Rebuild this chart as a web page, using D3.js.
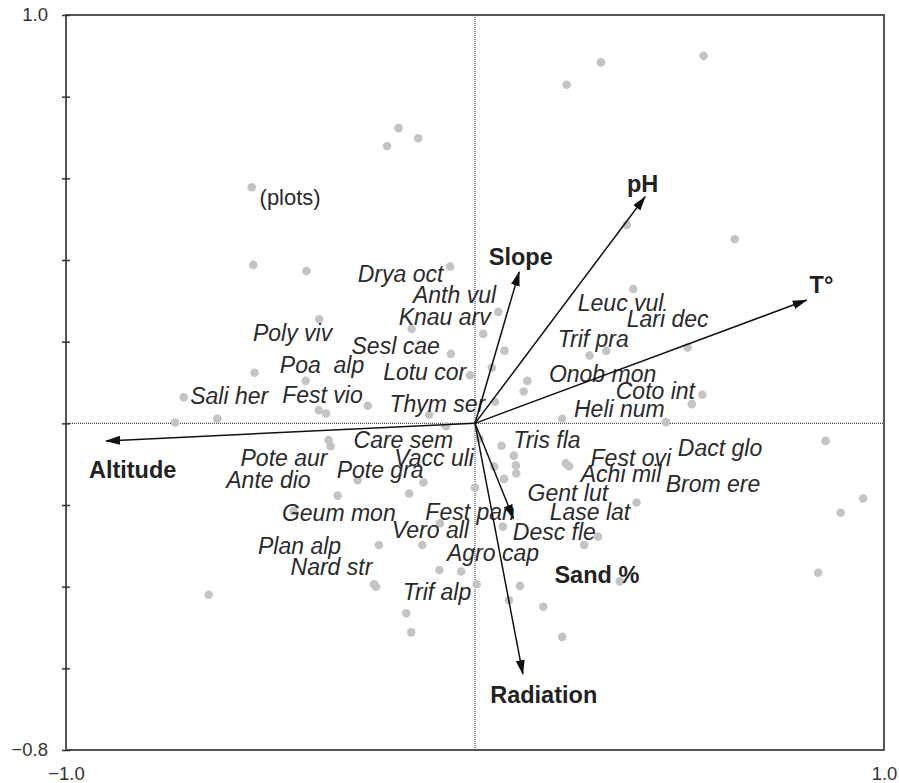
<!DOCTYPE html>
<html>
<head>
<meta charset="utf-8">
<script src="https://cdn.jsdelivr.net/npm/d3@7"></script>
<style>
  body { margin: 0; background: #fff; }
  svg text { font-family: "Liberation Sans", Arial, sans-serif; }
</style>
</head>
<body>
<div class="biplot"></div>
<script>
// site (plot) scores, axis 1 and axis 2
var plotX = [0.559, 0.308, 0.224, -0.187, -0.139, -0.215, -0.546, 0.371, 0.635, -0.542,
             -0.412, -0.061, 0.387, -0.381, 0.057, -0.155, 0.020, 0.072, -0.059, 0.280,
             0.321, 0.520, -0.539, -0.414, 0.041, -0.012, 0.128, 0.119, 0.556, -0.712,
             -0.262, -0.382, -0.364, -0.112, 0.049, 0.530, -0.733, -0.630, 0.213, 0.467,
             -0.071, 0.857, -0.358, -0.353, 0.011, 0.065, 0.095, 0.100, 0.101, 0.047,
             0.071, 0.222, 0.230, -0.126, -0.161, 0.000, -0.287, -0.336, -0.444, 0.395,
             0.949, 0.894, -0.086, 0.068, 0.301, 0.267, -0.235, -0.129, -0.087, -0.034,
             0.004, 0.110, 0.354, -0.247, -0.242, 0.083, 0.167, -0.168, -0.156, 0.213,
             0.839, -0.651];
var plotY = [0.900, 0.884, 0.829, 0.723, 0.698, 0.679, 0.578, 0.486, 0.451, 0.388,
             0.373, 0.384, 0.329, 0.255, 0.273, 0.231, 0.219, 0.178, 0.170, 0.166,
             0.177, 0.186, 0.124, 0.104, 0.136, 0.118, 0.104, 0.078, 0.070, 0.064,
             0.043, 0.032, 0.024, 0.021, 0.053, 0.047, 0.002, 0.011, 0.011, 0.003,
             -0.007, -0.043, -0.041, -0.056, -0.037, -0.055, -0.079, -0.103, -0.123, -0.106,
             -0.136, -0.098, -0.105, -0.145, -0.172, -0.157, -0.139, -0.177, -0.215, -0.194,
             -0.184, -0.219, -0.245, -0.253, -0.277, -0.298, -0.298, -0.298, -0.359, -0.363,
             -0.394, -0.398, -0.387, -0.394, -0.400, -0.433, -0.449, -0.465, -0.512, -0.523,
             -0.366, -0.420];

// species scores
var species = ['Poly viv', 'Poa  alp', 'Sali her', 'Fest vio', 'Drya oct', 'Anth vul', 'Knau arv',
               'Sesl cae', 'Lotu cor', 'Thym ser', 'Leuc vul', 'Lari dec', 'Trif pra', 'Onob mon',
               'Coto int', 'Heli num', 'Tris fla', 'Dact glo', 'Brom ere', 'Fest ovi', 'Achi mil',
               'Care sem', 'Vacc uli', 'Pote gra', 'Gent lut', 'Fest pan', 'Lase lat', 'Vero all',
               'Desc fle', 'Agro cap', 'Trif alp', 'Nard str', 'Plan alp', 'Geum mon', 'Pote aur',
               'Ante dio'];
var speciesX = [-0.446, -0.374, -0.601, -0.373, -0.182, -0.050, -0.074,
                -0.194, -0.123, -0.092, 0.356, 0.471, 0.289, 0.312,
                0.441, 0.353, 0.176, 0.599, 0.582, 0.381, 0.357,
                -0.175, -0.100, -0.232, 0.227, -0.012, 0.281, -0.109,
                0.194, 0.044, -0.093, -0.351, -0.429, -0.333, -0.467,
                -0.505];
var speciesY = [0.202, 0.124, 0.047, 0.050, 0.347, 0.294, 0.241,
                0.170, 0.106, 0.027, 0.276, 0.235, 0.188, 0.102,
                0.060, 0.016, -0.061, -0.080, -0.168, -0.104, -0.143,
                -0.061, -0.104, -0.135, -0.190, -0.237, -0.237, -0.282,
                -0.286, -0.337, -0.433, -0.372, -0.320, -0.239, -0.105,
                -0.159];

// environmental variables (arrow tips) and where their names sit
var envNames = ['Altitude', 'Slope', 'pH', 'T°', 'Sand %', 'Radiation'];
var envX = [-0.902, 0.108, 0.416, 0.811, 0.094, 0.117];
var envY = [-0.043, 0.371, 0.555, 0.302, -0.233, -0.614];
var envLabelX = [-0.837, 0.112, 0.410, 0.847, 0.298, 0.168];
var envLabelY = [-0.134, 0.388, 0.566, 0.320, -0.390, -0.684];

var plotsLabel = {text: '(plots)', x: -0.452, y: 0.535};

var xDomain = [-1.0, 1.0], yDomain = [-0.8, 1.0];
var yTicks = [1.0, 0.8, 0.6, 0.4, 0.2, 0, -0.2, -0.4, -0.6, -0.8];
var xTicks = [-1.0, 1.0];

var width = 899, height = 783;
var margin = {top: 15, right: 15, bottom: 33, left: 66};
var w = width - margin.left - margin.right,
    h = height - margin.top - margin.bottom;

var svg = d3.select('.biplot')
            .append('svg')
            .attr('width', width)
            .attr('height', height);

var defs = svg.append('defs');
defs.append('marker')
    .attr('id', 'head')
    .attr('markerUnits', 'userSpaceOnUse')
    .attr('viewBox', '0 -5 15 10')
    .attr('refX', 14)
    .attr('refY', 0)
    .attr('markerWidth', 15)
    .attr('markerHeight', 10)
    .attr('orient', 'auto')
    .append('path')
    .attr('d', 'M0,-4.5L15,0L0,4.5Z')
    .attr('fill', '#111');

var g = svg.append('g')
           .attr('transform', 'translate(' + margin.left + ',' + margin.top + ')');

// Scales
var xscale = d3.scaleLinear().domain(xDomain).range([0, w]);
var yscale = d3.scaleLinear().domain(yDomain).range([h, 0]);

// zero lines
g.append('line')
 .attr('x1', 0).attr('x2', w)
 .attr('y1', yscale(0)).attr('y2', yscale(0))
 .attr('stroke', '#222').attr('stroke-width', 1).attr('stroke-dasharray', '1,1');
g.append('line')
 .attr('x1', xscale(0)).attr('x2', xscale(0))
 .attr('y1', 0).attr('y2', h)
 .attr('stroke', '#222').attr('stroke-width', 1).attr('stroke-dasharray', '1,1');

// site points
g.selectAll('circle.site')
 .data(plotX)
 .enter().append('circle')
 .attr('class', 'site')
 .attr('cx', function(d) { return xscale(d); })
 .attr('cy', function(d, i) { return yscale(plotY[i]); })
 .attr('r', 4.3)
 .attr('fill', '#c4c4c4');

g.append('text')
 .attr('x', xscale(plotsLabel.x))
 .attr('y', yscale(plotsLabel.y))
 .attr('text-anchor', 'middle')
 .attr('font-size', '22px')
 .attr('fill', '#2a2a2a')
 .text(plotsLabel.text);

// species labels
g.selectAll('text.sp')
 .data(species)
 .enter().append('text')
 .attr('class', 'sp')
 .attr('x', function(d, i) { return xscale(speciesX[i]); })
 .attr('y', function(d, i) { return yscale(speciesY[i]); })
 .attr('text-anchor', 'middle')
 .attr('font-size', '23px')
 .attr('font-style', 'italic')
 .attr('fill', '#2a2a2a')
 .style('white-space', 'pre')
 .text(function(d) { return d; });

// arrows
g.selectAll('line.env')
 .data(envNames)
 .enter().append('line')
 .attr('class', 'env')
 .attr('x1', xscale(0)).attr('y1', yscale(0))
 .attr('x2', function(d, i) { return xscale(envX[i]); })
 .attr('y2', function(d, i) { return yscale(envY[i]); })
 .attr('stroke', '#111')
 .attr('stroke-width', 1.5)
 .attr('marker-end', 'url(#head)');

g.selectAll('text.env')
 .data(envNames)
 .enter().append('text')
 .attr('class', 'env')
 .attr('x', function(d, i) { return xscale(envLabelX[i]); })
 .attr('y', function(d, i) { return yscale(envLabelY[i]); })
 .attr('text-anchor', 'middle')
 .attr('font-size', '23.5px')
 .attr('font-weight', 'bold')
 .attr('fill', '#222')
 .text(function(d) { return d; });

// frame
g.append('rect')
 .attr('x', 0).attr('y', 0)
 .attr('width', w).attr('height', h)
 .attr('fill', 'none')
 .attr('stroke', '#555')
 .attr('stroke-width', 2);

// Scale to axis
var y_axis = d3.axisLeft(yscale)
               .tickValues(yTicks)
               .tickSizeInner(4)
               .tickSizeOuter(0)
               .tickPadding(14)
               .tickFormat(function(d) { return (d === 1 || d === -0.8) ? d3.format('.1f')(d) : ''; });

var x_axis = d3.axisBottom(xscale)
               .tickValues(xTicks)
               .tickSize(0)
               .tickPadding(17)
               .tickFormat(d3.format('.1f'));

var ya = g.append('g').attr('id', 'y-axis').call(y_axis);
ya.select('.domain').remove();
ya.selectAll('.tick line').attr('x1', 4).attr('stroke', '#333').attr('stroke-width', 1.5);

var xa = g.append('g').attr('id', 'x-axis')
          .attr('transform', 'translate(0,' + h + ')')
          .call(x_axis);
xa.select('.domain').remove();

svg.selectAll('#x-axis text, #y-axis text')
   .attr('font-size', '18.5px')
   .attr('fill', '#333')
   .style('font-family', '"Liberation Sans", Arial, sans-serif');
</script>
</body>
</html>
